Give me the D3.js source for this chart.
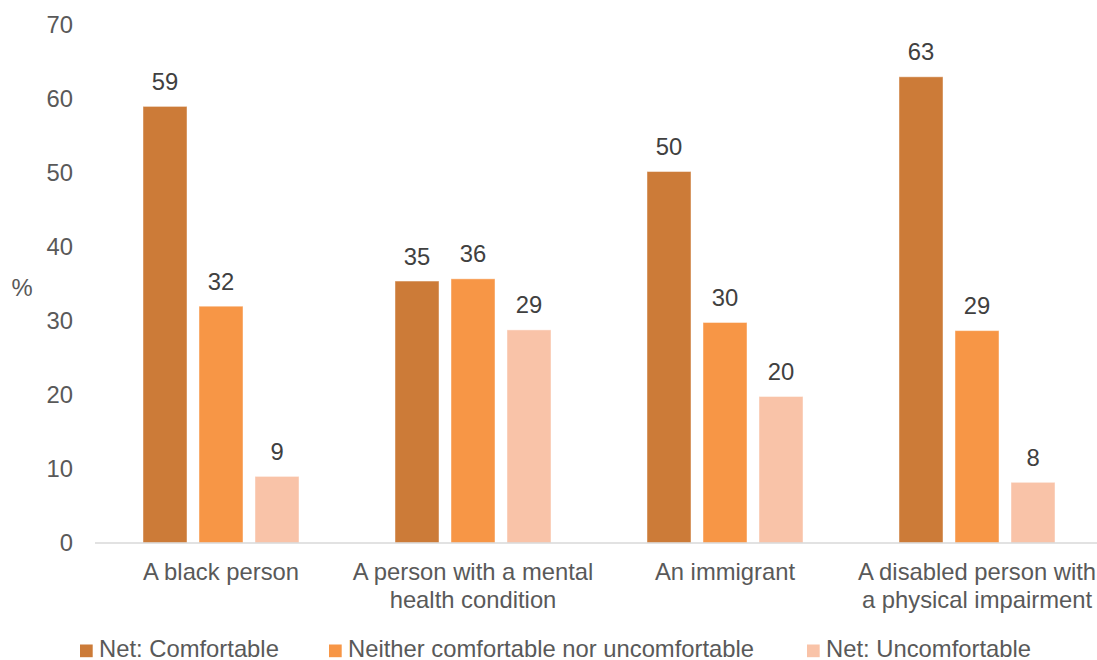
<!DOCTYPE html>
<html>
<head>
<meta charset="utf-8">
<script src="https://cdn.jsdelivr.net/npm/d3@7"></script>
<style>
  html, body { margin: 0; padding: 0; background: #fff; }
  svg { display: block; font-family: "Liberation Sans", Arial, sans-serif; }
</style>
</head>
<body>
<svg id="chart" width="1097" height="660"></svg>
<script>
const categories = [
  ["A black person"],
  ["A person with a mental", "health condition"],
  ["An immigrant"],
  ["A disabled person with", "a physical impairment"]
];
const seriesNames = ["Net: Comfortable", "Neither comfortable nor uncomfortable", "Net: Uncomfortable"];
const comfortable = [59.0, 35.4, 50.2, 63.0];
const neither = [32.0, 35.7, 29.8, 28.7];
const uncomfortable = [9.0, 28.8, 19.8, 8.2];
const yTicks = [0, 10, 20, 30, 40, 50, 60, 70];
const colors = ["#CC7B38", "#F79646", "#F9C3A8"];

const seriesValues = [comfortable, neither, uncomfortable];
const svg = d3.select("#chart");
const fontSize = 23.8;

const x = d3.scaleBand().domain(d3.range(categories.length)).range([95, 1103]).paddingInner(0).paddingOuter(0);
const xInner = d3.scaleBand().domain(d3.range(seriesNames.length)).range([48, 204]).paddingInner(12 / 56).paddingOuter(0);
const y = d3.scaleLinear().domain([0, 70]).range([543, 25]);

// y tick labels
svg.append("g").selectAll("text").data(yTicks).join("text")
  .attr("x", 73).attr("y", d => y(d)).attr("dy", "0.35em")
  .attr("text-anchor", "end").attr("font-size", fontSize).attr("fill", "#595959")
  .text(d => d);

// % axis title
svg.append("text").attr("x", 22).attr("y", 288).attr("dy", "0.35em")
  .attr("text-anchor", "middle").attr("font-size", fontSize).attr("fill", "#595959").text("%");

// bars
const groups = svg.append("g").selectAll("g").data(categories).join("g")
  .attr("transform", (d, i) => `translate(${x(i)},0)`);

groups.each(function(cat, ci) {
  const g = d3.select(this);
  seriesValues.forEach((vals, si) => {
    g.append("rect")
      .attr("x", xInner(si)).attr("width", xInner.bandwidth())
      .attr("y", y(vals[ci])).attr("height", y(0) - y(vals[ci]))
      .attr("fill", colors[si])
      .attr("stroke", "#ffffff").attr("stroke-opacity", 0.45).attr("stroke-width", 1);
    g.append("text")
      .attr("x", xInner(si) + xInner.bandwidth() / 2)
      .attr("y", y(vals[ci]) - 16.5)
      .attr("text-anchor", "middle").attr("font-size", fontSize).attr("fill", "#404040")
      .text(Math.round(vals[ci]));
  });
});

// x axis line
svg.append("line").attr("x1", 95).attr("x2", 1103).attr("y1", y(0)).attr("y2", y(0))
  .attr("stroke", "#D9D9D9").attr("stroke-width", 1.5);

// category labels
categories.forEach((lines, i) => {
  const t = svg.append("text")
    .attr("text-anchor", "middle").attr("font-size", fontSize).attr("fill", "#595959");
  lines.forEach((ln, li) => {
    t.append("tspan").attr("x", x(i) + x.bandwidth() / 2).attr("y", 580 + li * 27.5).text(ln);
  });
});

// legend
const legendX = [80, 329, 807];
const legend = svg.append("g");
seriesNames.forEach((name, i) => {
  legend.append("rect").attr("x", legendX[i]).attr("y", 644.5).attr("width", 12.7).attr("height", 12.7).attr("fill", colors[i]);
  legend.append("text").attr("x", legendX[i] + 19).attr("y", 656.5)
    .attr("font-size", fontSize).attr("fill", "#595959").text(name);
});
</script>
</body>
</html>
